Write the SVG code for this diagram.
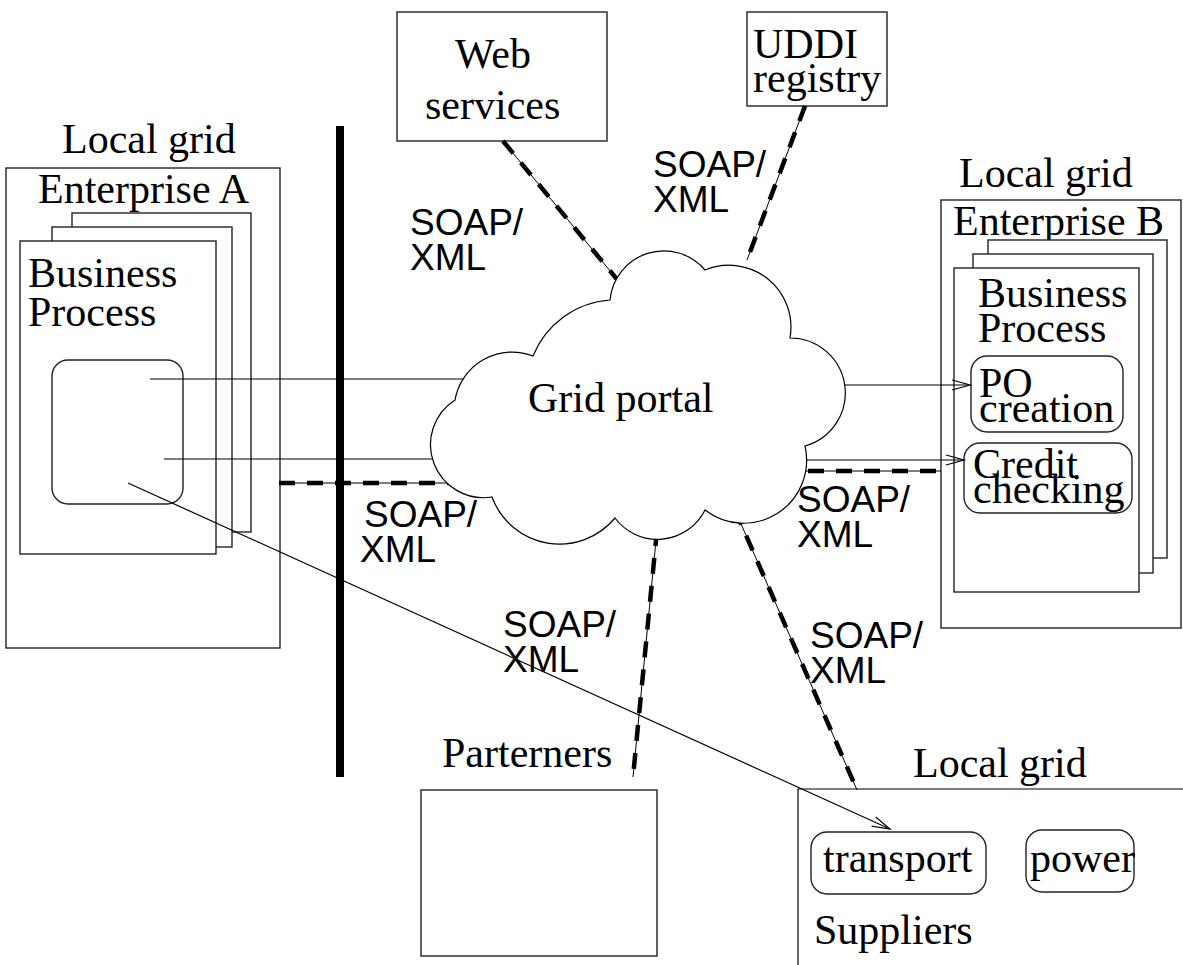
<svg xmlns="http://www.w3.org/2000/svg" width="1183" height="965" viewBox="0 0 1183 965">
<style>
.t{font-family:"Liberation Serif","Times New Roman",serif;font-size:42px;fill:#000}
.s{font-family:"Liberation Sans",Arial,sans-serif;font-size:37px;fill:#000}
.box{fill:#fff;stroke:#222;stroke-width:1.4}
.ln{fill:none;stroke:#000;stroke-width:1.2}
.thin{fill:none;stroke:#000;stroke-width:1}
.dash{fill:none;stroke:#000;stroke-width:4.5;stroke-dasharray:16 12}
</style>
<defs>
<marker id="arr" markerUnits="userSpaceOnUse" markerWidth="22" markerHeight="14" refX="19" refY="6" orient="auto">
<path d="M1,1 L19,6 L1,11" fill="none" stroke="#000" stroke-width="1.2"/>
</marker>
</defs>

<g id="enterpriseA">
<text class="t" x="62" y="153">Local grid</text>
<rect class="box" x="6" y="168" width="274" height="480"/>
<text class="t" x="38" y="203">Enterprise A</text>
<rect class="box" x="72" y="213" width="179" height="319"/>
<rect class="box" x="52" y="227" width="180" height="320"/>
<rect class="box" x="20" y="241" width="196" height="313"/>
<text class="t" x="28" y="287">Business</text>
<text class="t" x="28" y="326">Process</text>
<rect class="box" x="52" y="360" width="131" height="144" rx="16"/>
</g>

<g id="divider">
<rect x="336" y="126" width="8" height="651" fill="#000"/>
</g>

<g id="webServices">
<rect class="box" x="397" y="12" width="210" height="129"/>
<text class="t" x="455" y="68">Web</text>
<text class="t" x="425" y="119">services</text>
</g>

<g id="uddi">
<rect class="box" x="747" y="12" width="140" height="94"/>
<text class="t" x="753" y="58">UDDI</text>
<text class="t" x="753" y="92">registry</text>
</g>

<g id="enterpriseB">
<text class="t" x="959" y="187">Local grid</text>
<rect class="box" x="941" y="200" width="240" height="428"/>
<text class="t" x="953" y="235">Enterprise B</text>
<rect class="box" x="988" y="240" width="179" height="318"/>
<rect class="box" x="973" y="254" width="180" height="319"/>
<rect class="box" x="954" y="268" width="185" height="324"/>
<text class="t" x="978" y="307">Business</text>
<text class="t" x="978" y="342">Process</text>
<rect class="box" x="971" y="356" width="152" height="76" rx="16"/>
<text class="t" x="979" y="397">PO</text>
<text class="t" x="979" y="422">creation</text>
<rect class="box" x="964" y="443" width="168" height="70" rx="16"/>
<text class="t" x="973" y="478">Credit</text>
<text class="t" x="973" y="503">checking</text>
</g>

<g id="partners">
<text class="t" x="442" y="767">Parterners</text>
<rect class="box" x="421" y="790" width="236" height="166"/>
</g>

<g id="suppliers">
<text class="t" x="913" y="777">Local grid</text>
<path class="ln" d="M798,966 V789 H1183"/>
<rect class="box" x="811" y="832" width="175" height="62" rx="16"/>
<text class="t" x="823" y="872">transport</text>
<rect class="box" x="1026" y="830" width="108" height="62" rx="16"/>
<text class="t" x="1030" y="872">power</text>
<text class="t" x="814" y="944">Suppliers</text>
</g>

<g id="connectors">
<line class="ln" x1="150" y1="379" x2="500" y2="379"/>
<line class="ln" x1="164" y1="459" x2="500" y2="459"/>
<line class="ln" x1="128" y1="483" x2="890" y2="829" marker-end="url(#arr)"/>
<line class="ln" x1="780" y1="385" x2="970" y2="385" marker-end="url(#arr)"/>
<line class="ln" x1="780" y1="460" x2="964" y2="460" marker-end="url(#arr)"/>
<g>
<line class="thin" x1="503" y1="141" x2="620" y2="283"/>
<line class="dash" x1="503" y1="141" x2="620" y2="283"/>
<line class="thin" x1="805" y1="106" x2="747" y2="260"/>
<line class="dash" x1="805" y1="106" x2="747" y2="260"/>
<line class="thin" x1="279" y1="483" x2="470" y2="483"/>
<line class="dash" x1="279" y1="483" x2="470" y2="483"/>
<line class="thin" x1="780" y1="471" x2="941" y2="471"/>
<line class="dash" x1="780" y1="471" x2="941" y2="471"/>
<line class="thin" x1="657" y1="530" x2="633" y2="777"/>
<line class="dash" x1="657" y1="530" x2="633" y2="777"/>
<line class="thin" x1="735" y1="510" x2="857" y2="790"/>
<line class="dash" x1="735" y1="510" x2="857" y2="790"/>
</g>
</g>

<g id="gridPortal">
<path d="M610,300 A54,54 0 0 1 705,270 A62,62 0 0 1 790,338 A55,55 0 0 1 805,446 A63,63 0 0 1 705,510 A53,53 0 0 1 615,518 A72,72 0 0 1 492,497 A53,53 0 0 1 455,400 A58,58 0 0 1 533,356 A90,90 0 0 1 610,300 Z" fill="#fff" stroke="#000" stroke-width="1.2"/>
<text class="t" x="528" y="412">Grid portal</text>
</g>

<g id="labels">
<text class="s" x="410" y="235">SOAP/</text>
<text class="s" x="410" y="270">XML</text>
<text class="s" x="653" y="177">SOAP/</text>
<text class="s" x="653" y="212">XML</text>
<text class="s" x="364" y="527">SOAP/</text>
<text class="s" x="360" y="562">XML</text>
<text class="s" x="797" y="512">SOAP/</text>
<text class="s" x="797" y="547">XML</text>
<text class="s" x="503" y="637">SOAP/</text>
<text class="s" x="503" y="672">XML</text>
<text class="s" x="810" y="648">SOAP/</text>
<text class="s" x="810" y="683">XML</text>
</g>
</svg>
